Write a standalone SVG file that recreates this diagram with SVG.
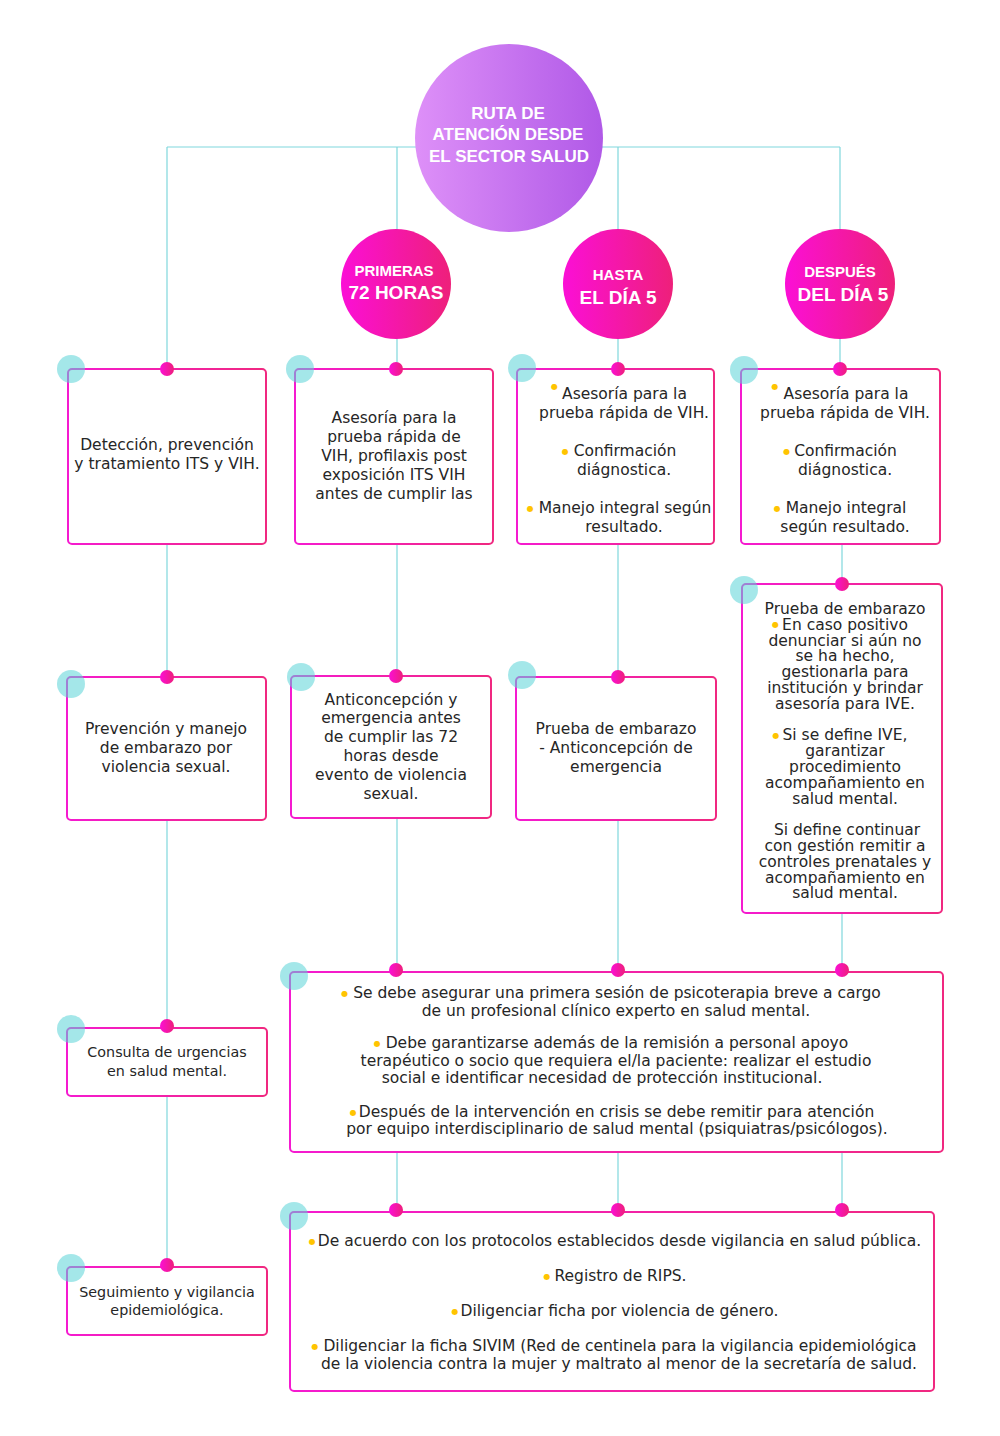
<svg xmlns="http://www.w3.org/2000/svg" width="1000" height="1436" viewBox="0 0 1000 1436">
<defs>
<linearGradient id="gbig" x1="0" y1="0" x2="1" y2="0"><stop offset="0" stop-color="#de90f8"/><stop offset="1" stop-color="#b059e7"/></linearGradient>
<linearGradient id="gmag" x1="0" y1="0" x2="1" y2="0"><stop offset="0" stop-color="#fb0fd6"/><stop offset="1" stop-color="#ee207a"/></linearGradient>
<linearGradient id="gbox" x1="0" y1="0" x2="1" y2="0"><stop offset="0" stop-color="#f51ad0"/><stop offset="1" stop-color="#f02880"/></linearGradient>
<style>
.con{stroke:#80d8dd;stroke-width:1.2;fill:none}
.box{fill:#fff;stroke:url(#gbox);stroke-width:2}
.teal{fill:#5ad3d7;opacity:.55}
.dot{fill:url(#gmag)}
.t{font-family:"DejaVu Sans",sans-serif;font-size:15.5px;fill:#262626;text-anchor:middle}
.n{font-size:14.3px}
.b{fill:#ffc400;font-size:8px}
.h{font-family:"Liberation Sans",Arial,sans-serif;font-weight:bold;fill:#fff;text-anchor:middle}
</style>
</defs>
<rect width="1000" height="1436" fill="#fff"/>
<g id="connectors">
<path class="con" d="M167 147H840M167 147V1265M397 147V1210M618 147V1210M840 147V369M842 544V1210"/>
</g>
<g id="title">
<circle cx="509" cy="138" r="94" fill="url(#gbig)"/>
<text class="h" font-size="17" x="508" y="119">RUTA DE</text>
<text class="h" font-size="17" x="508" y="140">ATENCIÓN DESDE</text>
<text class="h" font-size="17" x="509" y="162">EL SECTOR SALUD</text>
</g>
<g id="h72">
<circle cx="396" cy="284" r="55" fill="url(#gmag)"/>
<text class="h" font-size="15" x="394" y="276">PRIMERAS</text>
<text class="h" font-size="19" x="396" y="299">72 HORAS</text>
</g>
<g id="hdia5">
<circle cx="618" cy="284" r="55" fill="url(#gmag)"/>
<text class="h" font-size="15" x="618" y="280">HASTA</text>
<text class="h" font-size="19" x="618" y="304">EL DÍA 5</text>
</g>
<g id="hdespues">
<circle cx="840" cy="284" r="55" fill="url(#gmag)"/>
<text class="h" font-size="15" x="840" y="277">DESPUÉS</text>
<text class="h" font-size="19" x="843" y="301">DEL DÍA 5</text>
</g>
<g id="n1">
<rect class="box" x="68" y="369" width="198" height="175" rx="4"/>
<circle class="teal" cx="71" cy="369" r="14"/><circle class="dot" cx="167" cy="369" r="7"/>
<text class="t" x="167" y="450">Detección, prevención</text>
<text class="t" x="167" y="469">y tratamiento ITS y VIH.</text>
</g>
<g id="n2">
<rect class="box" x="295" y="369" width="198" height="175" rx="4"/>
<circle class="teal" cx="300" cy="369" r="14"/><circle class="dot" cx="396" cy="369" r="7"/>
<text class="t" x="394" y="423">Asesoría para la</text>
<text class="t" x="394" y="442">prueba rápida de</text>
<text class="t" x="394" y="461">VIH, profilaxis post</text>
<text class="t" x="394" y="480">exposición ITS VIH</text>
<text class="t" x="394" y="499">antes de cumplir las</text>
</g>
<g id="n3">
<rect class="box" x="517" y="369" width="197" height="175" rx="4"/>
<circle class="teal" cx="522" cy="368" r="14"/><circle class="dot" cx="618" cy="369" r="7"/>
<text class="t" x="619" y="399"><tspan class="b" dy="-10">●</tspan><tspan dx="4" dy="10">Asesoría para la</tspan></text>
<text class="t" x="624" y="418">prueba rápida de VIH.</text>
<text class="t" x="619" y="456"><tspan class="b" dy="-2.5">●</tspan><tspan dx="5" dy="2.5">Confirmación</tspan></text>
<text class="t" x="624" y="475">diágnostica.</text>
<text class="t" x="619" y="513"><tspan class="b" dy="-2.5">●</tspan><tspan dx="5" dy="2.5">Manejo integral según</tspan></text>
<text class="t" x="624" y="532">resultado.</text>
</g>
<g id="n4">
<rect class="box" x="741" y="369" width="199" height="175" rx="4"/>
<circle class="teal" cx="744" cy="370" r="14"/><circle class="dot" cx="840" cy="369" r="7"/>
<text class="t" x="840" y="399"><tspan class="b" dy="-10">●</tspan><tspan dx="5" dy="10">Asesoría para la</tspan></text>
<text class="t" x="845" y="418">prueba rápida de VIH.</text>
<text class="t" x="840" y="456"><tspan class="b" dy="-2.5">●</tspan><tspan dx="4" dy="2.5">Confirmación</tspan></text>
<text class="t" x="845" y="475">diágnostica.</text>
<text class="t" x="840" y="513"><tspan class="b" dy="-2.5">●</tspan><tspan dx="5" dy="2.5">Manejo integral</tspan></text>
<text class="t" x="845" y="532">según resultado.</text>
</g>
<g id="n5">
<rect class="box" x="67" y="677" width="199" height="143" rx="4"/>
<circle class="teal" cx="71" cy="684" r="14"/><circle class="dot" cx="167" cy="677" r="7"/>
<text class="t" x="166" y="734">Prevención y manejo</text>
<text class="t" x="166" y="753">de  embarazo por</text>
<text class="t" x="166" y="772">violencia sexual.</text>
</g>
<g id="n6">
<rect class="box" x="291" y="676" width="200" height="142" rx="4"/>
<circle class="teal" cx="301" cy="677" r="14"/><circle class="dot" cx="396" cy="676" r="7"/>
<text class="t" x="391" y="705">Anticoncepción y</text>
<text class="t" x="391" y="723">emergencia antes</text>
<text class="t" x="391" y="742">de cumplir las 72</text>
<text class="t" x="391" y="761">horas desde</text>
<text class="t" x="391" y="780">evento de violencia</text>
<text class="t" x="391" y="799">sexual.</text>
</g>
<g id="n7">
<rect class="box" x="516" y="677" width="200" height="143" rx="4"/>
<circle class="teal" cx="522" cy="675" r="14"/><circle class="dot" cx="618" cy="677" r="7"/>
<text class="t" x="616" y="734">Prueba de embarazo</text>
<text class="t" x="616" y="753">- Anticoncepción de</text>
<text class="t" x="616" y="772">emergencia</text>
</g>
<g id="n8">
<rect class="box" x="742" y="584" width="200" height="329" rx="4"/>
<circle class="teal" cx="744" cy="590" r="14"/><circle class="dot" cx="842" cy="584" r="7"/>
<text class="t" x="845" y="614">Prueba de embarazo</text>
<text class="t" x="840" y="629.8"><tspan class="b" dy="-2.5">●</tspan><tspan dx="3" dy="2.5">En caso positivo</tspan></text>
<text class="t" x="845" y="645.6">denunciar si aún no</text>
<text class="t" x="845" y="661.4">se ha hecho,</text>
<text class="t" x="845" y="677.2">gestionarla para</text>
<text class="t" x="845" y="693">institución y brindar</text>
<text class="t" x="845" y="708.8">asesoría para IVE.</text>
<text class="t" x="840" y="740.4"><tspan class="b" dy="-2.5">●</tspan><tspan dx="3" dy="2.5">Si se define IVE,</tspan></text>
<text class="t" x="845" y="756.2">garantizar</text>
<text class="t" x="845" y="772">procedimiento</text>
<text class="t" x="845" y="787.8">acompañamiento en</text>
<text class="t" x="845" y="803.6">salud mental.</text>
<text class="t" x="847" y="835.2">Si define continuar</text>
<text class="t" x="845" y="851">con gestión remitir a</text>
<text class="t" x="845" y="866.8">controles prenatales y</text>
<text class="t" x="845" y="882.6">acompañamiento en</text>
<text class="t" x="845" y="898.4">salud mental.</text>
</g>
<g id="n9">
<rect class="box" x="67" y="1028" width="200" height="68" rx="4"/>
<circle class="teal" cx="71" cy="1029" r="14"/><circle class="dot" cx="167" cy="1026" r="7"/>
<text class="t n" x="167" y="1057">Consulta de urgencias</text>
<text class="t n" x="167" y="1076">en salud mental.</text>
</g>
<g id="n10">
<rect class="box" x="290" y="972" width="653" height="180" rx="4"/>
<circle class="teal" cx="294" cy="976" r="14"/>
<circle class="dot" cx="396" cy="970" r="7"/><circle class="dot" cx="618" cy="970" r="7"/><circle class="dot" cx="842" cy="970" r="7"/>
<text class="t" x="611" y="998"><tspan class="b" dy="-2.5">●</tspan><tspan dx="5" dy="2.5">Se debe asegurar una primera sesión de psicoterapia breve a cargo</tspan></text>
<text class="t" x="616" y="1016">de un profesional clínico experto en salud mental.</text>
<text class="t" x="611" y="1048"><tspan class="b" dy="-2.5">●</tspan><tspan dx="5" dy="2.5">Debe garantizarse además de la remisión a personal apoyo</tspan></text>
<text class="t" x="616" y="1066">terapéutico o socio que requiera el/la paciente: realizar el estudio</text>
<text class="t" x="602" y="1083">social e identificar necesidad de protección institucional.</text>
<text class="t" x="612" y="1117"><tspan class="b" dy="-2.5">●</tspan><tspan dx="2" dy="2.5">Después de la intervención en crisis se debe remitir para atención</tspan></text>
<text class="t" x="617" y="1134">por equipo interdisciplinario de salud mental (psiquiatras/psicólogos).</text>
</g>
<g id="n11">
<rect class="box" x="67" y="1267" width="200" height="68" rx="4"/>
<circle class="teal" cx="71" cy="1268" r="14"/><circle class="dot" cx="167" cy="1265" r="7"/>
<text class="t n" x="167" y="1297">Seguimiento y vigilancia</text>
<text class="t n" x="167" y="1315">epidemiológica.</text>
</g>
<g id="n12">
<rect class="box" x="290" y="1212" width="644" height="179" rx="4"/>
<circle class="teal" cx="294" cy="1216" r="14"/>
<circle class="dot" cx="396" cy="1210" r="7"/><circle class="dot" cx="618" cy="1210" r="7"/><circle class="dot" cx="842" cy="1210" r="7"/>
<text class="t" x="615" y="1246"><tspan class="b" dy="-2.5">●</tspan><tspan dx="2" dy="2.5">De acuerdo con los protocolos establecidos desde vigilancia en salud pública.</tspan></text>
<text class="t" x="615" y="1281"><tspan class="b" dy="-2.5">●</tspan><tspan dx="4" dy="2.5">Registro de RIPS.</tspan></text>
<text class="t" x="615" y="1316"><tspan class="b" dy="-2.5">●</tspan><tspan dx="2" dy="2.5">Diligenciar ficha por violencia de género.</tspan></text>
<text class="t" x="614" y="1351"><tspan class="b" dy="-2.5">●</tspan><tspan dx="5" dy="2.5">Diligenciar la ficha SIVIM (Red de centinela para la vigilancia epidemiológica</tspan></text>
<text class="t" x="619" y="1369">de la violencia contra la mujer y maltrato al menor de la secretaría de salud.</text>
</g>
</svg>
